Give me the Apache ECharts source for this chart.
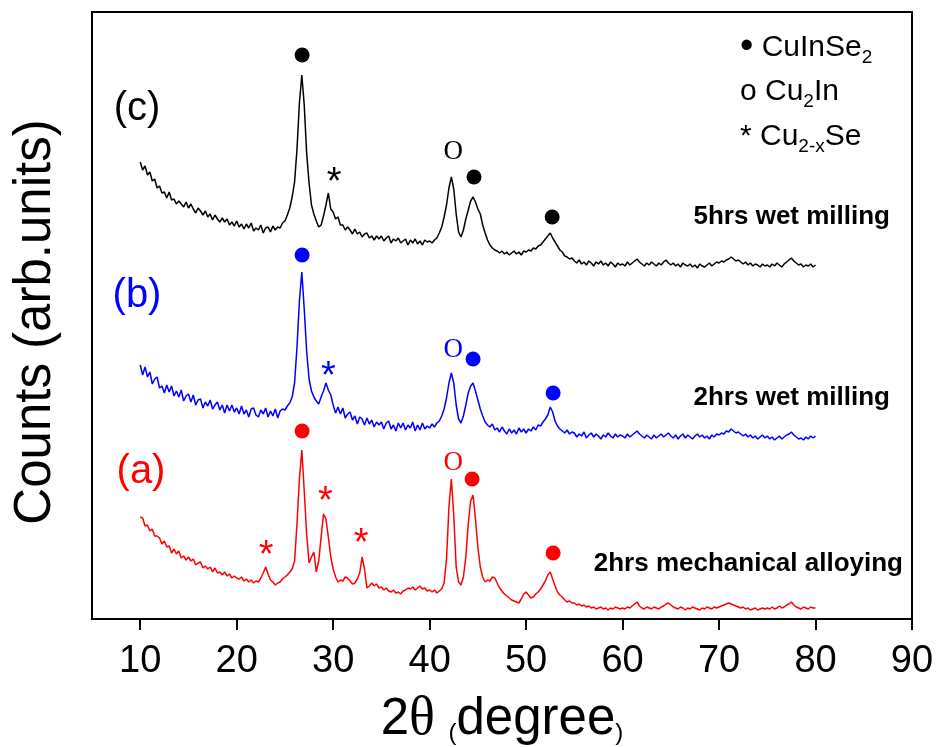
<!DOCTYPE html>
<html><head><meta charset="utf-8">
<script src="https://cdn.jsdelivr.net/npm/echarts@6/dist/echarts.min.js"></script>
<style>html,body{margin:0;padding:0;background:#fff}#c{width:941px;height:747px}</style>
</head><body><div id="c"></div>
<script>
// 2θ sampling of the digitised patterns
const thetaStart = 10, thetaStep = 0.25;
const tickValues = [10, 20, 30, 40, 50, 60, 70, 80, 90];

// (c) 5hrs wet milling  (arb. units incl. stacking offset)
const countsC = [
457,449,453,444,447,438,440,431,433,426,427,421,427,419,420,415,418,415,412,417,
411,415,410,406,411,408,404,408,402,405,399,404,400,397,401,397,400,394,397,393,
398,392,395,390,395,391,396,388,391,389,394,386,391,392,387,393,389,392,391,396,
398,404,411,422,437,470,516,544,514,466,436,414,405,398,392,394,403,414,426,410,
407,400,402,394,394,389,392,389,385,390,385,387,382,385,386,381,383,379,383,380,
383,378,381,383,376,380,378,381,376,378,380,374,379,376,380,375,378,374,379,377,
378,376,379,381,386,392,402,414,431,442,430,405,387,382,389,400,409,418,422,417,
410,405,394,386,379,374,371,369,368,366,368,365,367,364,366,368,365,367,364,368,
367,369,368,371,370,373,374,377,380,383,386,381,377,373,369,367,363,362,360,361,
358,356,359,355,357,354,358,356,353,357,355,358,354,356,353,357,355,352,356,354,
355,353,357,354,356,358,360,357,355,353,356,354,357,355,353,356,354,357,359,356,
354,356,353,355,352,356,354,353,355,352,354,351,355,353,352,354,356,353,355,357,
356,358,357,359,360,362,360,358,359,357,355,357,354,356,353,355,354,352,355,353,
354,352,355,353,356,354,352,355,357,359,361,358,356,354,355,352,354,353,355,352,
354];

// (b) 2hrs wet milling
const countsB = [
254,244,252,242,247,235,240,242,231,233,226,234,227,233,223,228,222,229,218,223,
225,217,224,214,219,220,211,217,213,219,210,214,217,209,214,206,214,208,214,207,
211,205,213,205,209,202,210,211,204,202,209,205,211,202,208,203,210,201,208,210,
209,213,216,222,236,272,318,347,310,268,240,228,222,218,215,222,228,236,229,224,
214,206,212,205,211,201,205,207,199,203,195,202,200,194,201,195,199,192,197,194,
197,190,196,198,190,194,188,196,191,196,189,194,191,197,188,194,189,196,190,193,
191,195,192,196,198,203,210,221,236,246,236,214,200,196,203,214,226,233,236,228,
219,210,203,197,194,192,195,189,191,187,192,188,185,190,186,189,185,191,187,190,
186,190,188,192,189,194,193,197,200,204,212,207,198,193,190,188,186,189,185,187,
186,182,185,183,187,181,184,186,182,185,183,180,184,182,186,183,181,185,182,184,
183,181,185,182,184,186,188,185,183,181,184,182,180,184,181,183,185,182,184,186,
183,181,184,180,183,185,181,184,182,180,183,185,182,184,181,183,180,184,182,185,
184,186,185,188,187,190,188,186,187,185,183,185,182,184,181,183,180,182,184,181,
183,180,182,179,181,183,180,182,184,185,187,184,182,180,181,179,182,180,183,181,
183];

// (a) 2hrs mechanical alloying
const countsA = [
102,101,93,94,88,90,83,83,81,75,78,72,73,66,70,65,68,61,63,59,
62,58,60,54,56,57,51,53,50,52,47,51,46,47,44,47,43,45,41,43,
41,40,42,38,40,37,39,36,38,37,41,46,52,45,39,37,34,36,37,40,
42,44,47,50,58,95,140,169,128,85,56,62,67,47,58,82,105,100,82,62,
50,42,37,39,38,42,41,38,35,36,40,46,62,50,31,33,36,33,35,31,
32,29,31,28,27,29,26,27,25,28,29,31,30,32,29,31,33,30,31,28,
29,27,29,26,28,30,36,60,112,140,104,52,37,34,42,62,95,118,124,100,
72,52,42,37,39,38,42,41,36,31,28,25,23,21,19,18,17,16,20,25,
27,24,21,22,25,27,30,34,38,44,47,40,33,27,24,22,19,17,18,16,
16,14,15,13,14,12,13,11,12,10,11,12,10,11,9,11,10,12,11,10,
11,10,12,11,13,15,17,13,11,10,12,11,10,12,11,10,12,13,15,16,
14,12,11,10,12,11,9,11,10,12,11,10,9,11,10,12,11,10,12,11,
12,13,14,15,16,15,14,13,12,11,12,10,11,9,10,11,9,10,11,10,
11,10,12,10,11,13,11,12,14,15,17,14,12,11,10,12,11,10,12,11,
11];

// phase markers: ● CuInSe2, o Cu2In, * Cu2-xSe  [2θ, height]
const dotsC = [[26.78, 564], [44.6, 442], [52.7, 402]];
const ringsC = [[42.45, 467]];
const starsC = [[30.1, 445]];
const dotsB = [[26.78, 364], [44.5, 260], [52.8, 226]];
const ringsB = [[42.45, 269]];
const starsB = [[29.5, 251]];
const dotsA = [[26.78, 188], [44.4, 140], [52.8, 66]];
const ringsA = [[42.45, 156]];
const starsA = [[23.05, 72], [29.2, 126], [32.9, 84]];

const SANS = "'Liberation Sans', Arial, sans-serif";
const SERIF = "'Liberation Serif', 'Times New Roman', serif";

function toPairs(arr) { return arr.map((v, i) => [thetaStart + i * thetaStep, v]); }
function lineSeries(name, arr, color) {
  return { name, type: 'line', data: toPairs(arr), symbol: 'none', showSymbol: false,
    lineStyle: { color, width: 1.5 }, silent: true, z: 2 };
}
function dotSeries(arr, color) {
  return { type: 'scatter', data: arr, symbol: 'circle', symbolSize: 15,
    itemStyle: { color, opacity: 1 }, silent: true, z: 3 };
}
function textSeries(arr, color, txt, font, size, offset) {
  return { type: 'scatter', data: arr, symbol: 'circle', symbolSize: 1,
    itemStyle: { color: 'rgba(255,255,255,0)', opacity: 1 }, silent: true, z: 3,
    label: { show: true, position: 'inside', formatter: txt, color, opacity: 1,
      fontFamily: font, fontSize: size, offset: offset } };
}
const legendRich = {
  bl: { fontFamily: SANS, fontSize: 38, lineHeight: 38, fill: '#000' },
  m: { fontFamily: SANS, fontSize: 30, lineHeight: 38, fill: '#000' },
  s: { fontFamily: SANS, fontSize: 19, lineHeight: 6, verticalAlign: 'bottom', fill: '#000' }
};

const chart = echarts.init(document.getElementById('c'), null, { renderer: 'canvas' });
chart.setOption({
  animation: false,
  backgroundColor: '#fff',
  grid: { left: 92, right: 29, top: 12, bottom: 128, show: true,
    borderColor: '#000', borderWidth: 2, containLabel: false, outerBoundsMode: 'none' },
  xAxis: {
    type: 'value', min: 5, max: 90,
    axisLine: { show: true, lineStyle: { color: '#000', width: 2 } },
    axisTick: { show: true, inside: false, length: 11, customValues: tickValues,
      lineStyle: { color: '#000', width: 2 } },
    axisLabel: { show: true, customValues: tickValues, margin: 24,
      fontFamily: SANS, fontSize: 38, color: '#000' },
    splitLine: { show: false },
    name: '{b|2}{t|θ }{s|(}{b|degree}{s|)}',
    nameLocation: 'middle', nameGap: 75,
    nameTextStyle: { color: '#000', fontFamily: SANS, fontSize: 51,
      rich: {
        b: { fontFamily: SANS, fontSize: 51, lineHeight: 51, color: '#000' },
        t: { fontFamily: SERIF, fontSize: 54, lineHeight: 51, color: '#000' },
        s: { fontFamily: SANS, fontSize: 24, lineHeight: 40, verticalAlign: 'bottom', color: '#000' }
      } }
  },
  yAxis: {
    type: 'value', min: 0, max: 607,
    axisLine: { show: true, lineStyle: { color: '#000', width: 2 } },
    axisTick: { show: false }, axisLabel: { show: false }, splitLine: { show: false }
  },
  series: [
    lineSeries('2hrs mechanical alloying', countsA, '#ff0000'),
    lineSeries('2hrs wet milling', countsB, '#0000ff'),
    lineSeries('5hrs wet milling', countsC, '#000000'),
    dotSeries(dotsC, '#000'), dotSeries(dotsB, '#0000ff'), dotSeries(dotsA, '#ff0000'),
    textSeries(ringsC, '#000', 'O', SERIF, 27, [0, 0]),
    textSeries(ringsB, '#0000ff', 'O', SERIF, 27, [0, 0]),
    textSeries(ringsA, '#ff0000', 'O', SERIF, 27, [0, 0]),
    textSeries(starsC, '#000', '*', SANS, 38, [0, 10]),
    textSeries(starsB, '#0000ff', '*', SANS, 38, [0, 10]),
    textSeries(starsA, '#ff0000', '*', SANS, 38, [0, 10])
  ],
  graphic: [
    { type: 'text', x: 36, y: 322, rotation: Math.PI / 2,
      style: { text: 'Counts (arb.units)', fill: '#000', font: '51px ' + SANS, align: 'center', verticalAlign: 'middle' } },
    { type: 'text', x: 137, y: 109, style: { text: '(c)', fill: '#000', font: '40px ' + SANS, align: 'center', verticalAlign: 'middle' } },
    { type: 'text', x: 137, y: 296, style: { text: '(b)', fill: '#0000ff', font: '40px ' + SANS, align: 'center', verticalAlign: 'middle' } },
    { type: 'text', x: 141, y: 472, style: { text: '(a)', fill: '#ff0000', font: '40px ' + SANS, align: 'center', verticalAlign: 'middle' } },
    { type: 'text', x: 890, y: 217, style: { text: '5hrs wet milling', fill: '#000', font: 'bold 26px ' + SANS, align: 'right', verticalAlign: 'middle' } },
    { type: 'text', x: 890, y: 398, style: { text: '2hrs wet milling', fill: '#000', font: 'bold 26px ' + SANS, align: 'right', verticalAlign: 'middle' } },
    { type: 'text', x: 903, y: 564, style: { text: '2hrs mechanical alloying', fill: '#000', font: 'bold 26px ' + SANS, align: 'right', verticalAlign: 'middle' } },
    { type: 'text', x: 740, y: 48, style: { text: '{bl|•}{m| CuInSe}{s|2}', align: 'left', verticalAlign: 'middle', rich: legendRich } },
    { type: 'text', x: 740, y: 92, style: { text: '{m|o Cu}{s|2}{m|In}', align: 'left', verticalAlign: 'middle', rich: legendRich } },
    { type: 'text', x: 740, y: 137, style: { text: '{m|* Cu}{s|2-x}{m|Se}', align: 'left', verticalAlign: 'middle', rich: legendRich } }
  ]
});
</script></body></html>
